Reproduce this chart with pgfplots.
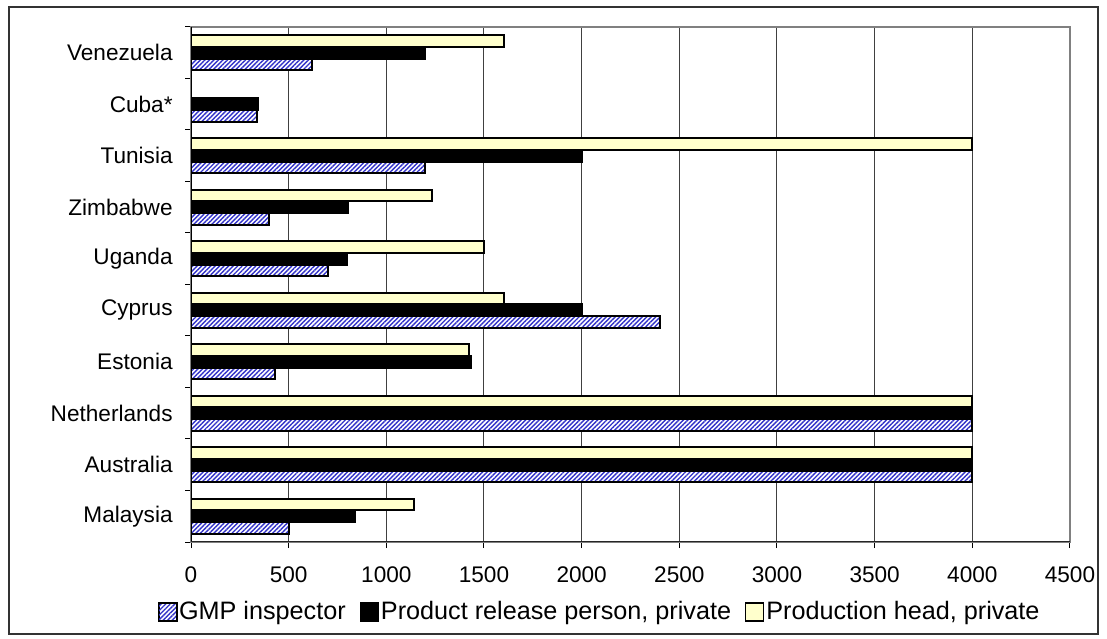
\documentclass[border=0pt]{standalone}
\usepackage{pgfplots}
\pgfplotsset{compat=1.18}
\usepackage{fontspec}
\setmainfont{Liberation Sans}
\usetikzlibrary{patterns.meta}
\definecolor{gmpblue}{RGB}{50,50,200}
\definecolor{prodyellow}{RGB}{255,255,204}
\newcommand{\chartfont}{\fontsize{11.3bp}{13.5bp}\selectfont}
\newcommand{\legfont}{\fontsize{12.6bp}{15bp}\selectfont}
\begin{document}
\chartfont
\begin{tikzpicture}
\useasboundingbox (-95.5bp,-48.5bp) rectangle (458bp,271bp);
\draw[line width=1bp, black!80] (-91bp,-46bp) rectangle (453.5bp,267.5bp);
\begin{axis}[
  at={(0,0)}, anchor=south west,
  scale only axis, width=439.5bp, height=257.5bp,
  xbar,
  xmin=0, xmax=4500, ymin=-0.5, ymax=9.5,
  xtick={0,500,...,4500},
  xmajorgrids, grid style={black!75, line width=0.5bp},
  ytick={-0.5,0.5,...,9.5},
  y tick label as interval,
  yticklabels={Malaysia,Australia,Netherlands,Estonia,Cyprus,Uganda,Zimbabwe,Tunisia,Cuba*,Venezuela},
  tick align=outside, major tick length=3bp,
  xtick pos=bottom, ytick pos=left,
  tick style={black, line width=0.5bp},
  axis line style={draw=black!50, line width=1bp},
  /pgf/number format/assume math mode=true,
  /pgf/number format/1000 sep={},
  scaled x ticks=false,
  tick label style={font=\chartfont},
  xticklabel style={inner sep=0pt, yshift=-9bp},
  yticklabel style={inner sep=0pt, xshift=-6bp},
  bar width=0.225,
  legend style={at={(0.465,-0.136)}, anchor=center, draw=none, fill=none,
    font=\legfont,
    legend columns=3, nodes={inner sep=1bp},
    /tikz/every even column/.append style={column sep=6bp}},
  legend image code/.code={\draw[#1, line width=0.6bp] (0bp,-4.5bp) rectangle (9bp,4.5bp);},
]
\addplot[bar shift=-0.225, draw=black, line width=1bp,
  pattern={Lines[angle=45,distance=1.6pt,line width=0.7pt]}, pattern color=gmpblue,
  preaction={fill=white}] coordinates {
  (500,0) (4000,1) (4000,2) (430,3) (2400,4) (700,5) (400,6) (1200,7) (340,8) (620,9)};
\addlegendentry{GMP inspector}
\addplot[bar shift=0, draw=black, fill=black, line width=1bp] coordinates {
  (840,0) (4000,1) (4000,2) (1435,3) (2000,4) (800,5) (805,6) (2000,7) (345,8) (1200,9)};
\addlegendentry{Product release person, private}
\addplot[bar shift=0.225, draw=black, fill=prodyellow, line width=1bp] coordinates {
  (1140,0) (4000,1) (4000,2) (1425,3) (1600,4) (1500,5) (1235,6) (4000,7) (1600,9)};
\addlegendentry{Production head, private}
\draw[black, line width=0.75bp] (rel axis cs:0,0) -- (rel axis cs:0,1);
\draw[black!85, line width=0.75bp] (rel axis cs:0,0) -- (rel axis cs:1,0);
\end{axis}
\end{tikzpicture}
\end{document}
